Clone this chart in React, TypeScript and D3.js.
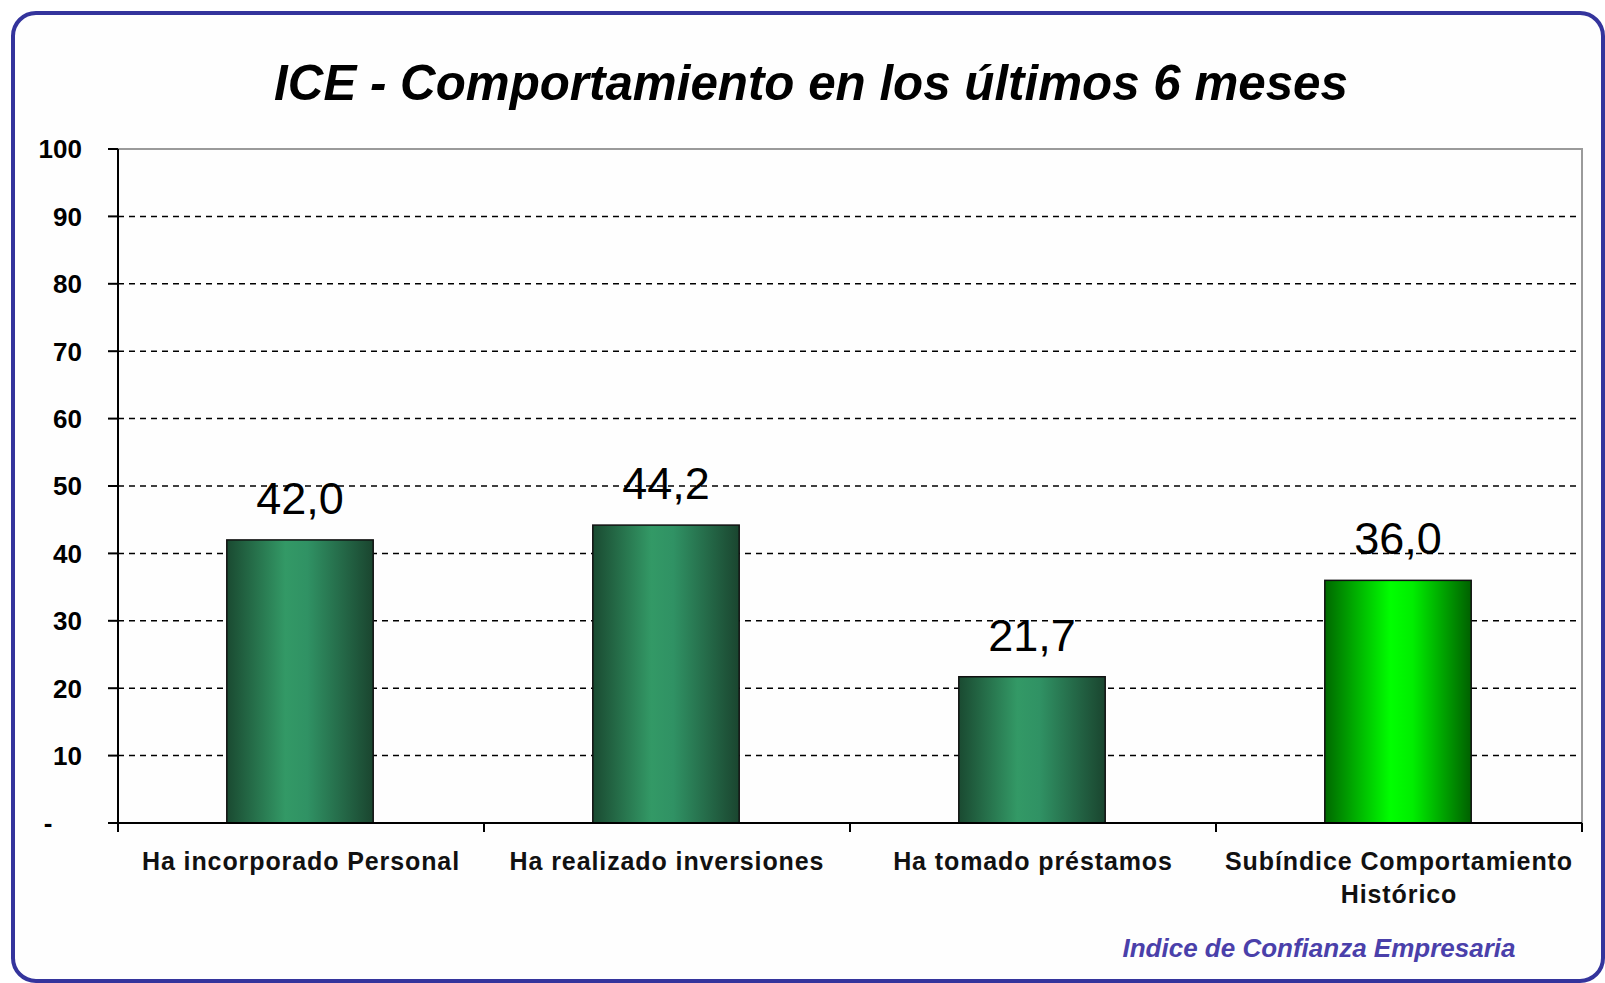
import { useEffect, useRef } from 'react';
import * as d3 from 'd3';

const categories = [
  ['Ha incorporado Personal'],
  ['Ha realizado inversiones'],
  ['Ha tomado préstamos'],
  ['Subíndice Comportamiento', 'Histórico'],
];
const values = [42.0, 44.2, 21.7, 36.0];
const highlight = [false, false, false, true];
const yTicks = [0, 10, 20, 30, 40, 50, 60, 70, 80, 90, 100];

const title = 'ICE - Comportamiento en los últimos 6 meses';
const footer = 'Indice de Confianza Empresaria';

const FONT = '"Liberation Sans", Arial, sans-serif';
const fmt = (v: number) => v.toFixed(1).replace('.', ',');

const App = () => {
  const svgRef = useRef<SVGSVGElement>(null);

  useEffect(() => {
    const W = 1605;
    const H = 983;
    const m = { left: 118, right: 1582, top: 149, bottom: 823 };

    const svg = d3.select(svgRef.current);
    svg.selectAll('*').remove();
    svg.attr('width', W).attr('height', H);

    const defs = svg.append('defs');
    const addGrad = (id: string, stops: [number, string][]) => {
      const g = defs.append('linearGradient').attr('id', id)
        .attr('x1', '0%').attr('x2', '100%').attr('y1', '0%').attr('y2', '0%');
      stops.forEach(([o, c]) => g.append('stop').attr('offset', o).attr('stop-color', c));
    };
    addGrad('gDark', [[0, '#1a4a31'], [0.4, '#339966'], [0.55, '#309264'], [1, '#1a452f']]);
    addGrad('gBright', [[0, '#006800'], [0.45, '#00ff00'], [0.6, '#00ee00'], [1, '#006000']]);

    // outer frame
    svg.append('rect')
      .attr('x', 13).attr('y', 13).attr('width', 1590).attr('height', 968)
      .attr('rx', 23).attr('fill', '#fefefe')
      .attr('stroke', '#34349c').attr('stroke-width', 4);

    const x = d3.scaleBand<number>()
      .domain(d3.range(values.length))
      .range([m.left, m.right])
      .paddingInner(0.6).paddingOuter(0.3);
    const band = d3.scaleBand<number>().domain(d3.range(values.length)).range([m.left, m.right]);
    const y = d3.scaleLinear().domain([0, 100]).range([m.bottom, m.top]);

    // gridlines
    svg.append('g').selectAll('line')
      .data(yTicks.filter(t => t > 0 && t < 100))
      .enter().append('line')
      .attr('x1', m.left).attr('x2', m.right)
      .attr('y1', d => y(d)).attr('y2', d => y(d))
      .attr('stroke', '#000').attr('stroke-width', 1.5)
      .attr('stroke-dasharray', '6 5');

    // plot border (top / right)
    svg.append('path')
      .attr('d', `M${m.left},${y(100)}H${m.right}V${m.bottom}`)
      .attr('fill', 'none').attr('stroke', '#9a9a9a').attr('stroke-width', 2);

    // bars
    svg.append('g').selectAll('rect')
      .data(values)
      .enter().append('rect')
      .attr('x', (d, i) => x(i)! - 1)
      .attr('width', x.bandwidth())
      .attr('y', d => y(d))
      .attr('height', d => y(0) - y(d))
      .attr('fill', (d, i) => highlight[i] ? 'url(#gBright)' : 'url(#gDark)')
      .attr('stroke', '#111').attr('stroke-width', 1.5);

    // value labels
    svg.append('g').selectAll('text')
      .data(values)
      .enter().append('text')
      .attr('x', (d, i) => x(i)! + x.bandwidth() / 2 - 1)
      .attr('y', d => y(d) - 26)
      .attr('text-anchor', 'middle')
      .attr('font-family', FONT).attr('font-size', 45)
      .attr('fill', '#000')
      .text(d => fmt(d));

    // axes
    svg.append('line')
      .attr('x1', m.left).attr('x2', m.left).attr('y1', m.top).attr('y2', m.bottom)
      .attr('stroke', '#000').attr('stroke-width', 2);
    svg.append('line')
      .attr('x1', m.left - 10).attr('x2', m.right).attr('y1', m.bottom).attr('y2', m.bottom)
      .attr('stroke', '#000').attr('stroke-width', 2);

    const yAxis = svg.append('g');
    yAxis.selectAll('line').data(yTicks).enter().append('line')
      .attr('x1', m.left - 10).attr('x2', m.left)
      .attr('y1', d => y(d)).attr('y2', d => y(d))
      .attr('stroke', '#000').attr('stroke-width', 2);
    yAxis.selectAll('text').data(yTicks).enter().append('text')
      .attr('x', d => d === 0 ? 48 : 82)
      .attr('y', d => y(d))
      .attr('dy', '0.36em')
      .attr('text-anchor', d => d === 0 ? 'middle' : 'end')
      .attr('font-family', FONT).attr('font-size', 26).attr('font-weight', 'bold')
      .text(d => d === 0 ? '-' : String(d));

    // x tick marks at category boundaries
    const bounds = d3.range(values.length + 1).map(i => i < values.length ? band(i)! : m.right);
    svg.append('g').selectAll('line').data(bounds).enter().append('line')
      .attr('x1', d => d).attr('x2', d => d)
      .attr('y1', m.bottom).attr('y2', m.bottom + 9)
      .attr('stroke', '#000').attr('stroke-width', 2);

    // category labels
    const cat = svg.append('g').selectAll('text').data(categories).enter().append('text')
      .attr('x', (d, i) => band(i)! + band.bandwidth() / 2)
      .attr('y', 870)
      .attr('text-anchor', 'middle')
      .attr('font-family', FONT).attr('font-size', 25).attr('font-weight', 'bold')
      .attr('letter-spacing', 0.9)
      .attr('fill', '#111');
    cat.each(function (d, i) {
      const t = d3.select(this);
      const cx = band(i)! + band.bandwidth() / 2;
      d.forEach((line, j) => {
        t.append('tspan').attr('x', cx).attr('dy', j === 0 ? 0 : 33).text(line);
      });
    });

    // title
    svg.append('text')
      .attr('x', 811).attr('y', 100)
      .attr('text-anchor', 'middle')
      .attr('font-family', FONT).attr('font-size', 49.3)
      .attr('font-weight', 'bold').attr('font-style', 'italic')
      .attr('fill', '#000')
      .text(title);

    // footer
    svg.append('text')
      .attr('x', 1319).attr('y', 957)
      .attr('text-anchor', 'middle')
      .attr('font-family', FONT).attr('font-size', 26)
      .attr('font-weight', 'bold').attr('font-style', 'italic')
      .attr('fill', '#4a40aa')
      .text(footer);
  }, []);

  return (
    <div style={{ position: 'fixed', left: 0, top: 0, background: '#fff' }}>
      <svg ref={svgRef} style={{ display: 'block' }} />
    </div>
  );
};

export default App;
